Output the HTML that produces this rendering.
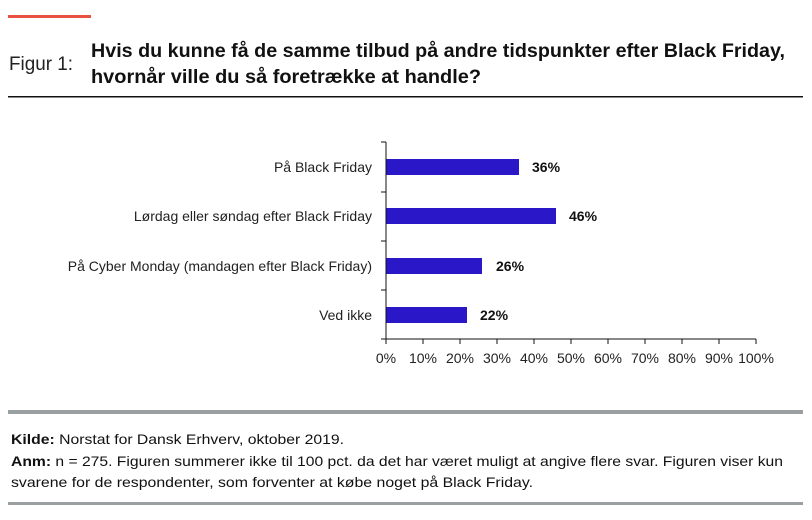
<!DOCTYPE html>
<html><head><meta charset="utf-8"><style>
html,body{margin:0;padding:0;background:#fff;}
svg{display:block;font-family:"Liberation Sans",sans-serif;}
</style></head><body>
<svg width="812" height="520" viewBox="0 0 812 520" xmlns="http://www.w3.org/2000/svg">
<rect x="8" y="15" width="83" height="3" fill="#e8503f"/>
<text x="9" y="70" font-size="19" fill="#222" textLength="64" lengthAdjust="spacingAndGlyphs">Figur 1:</text>
<text x="91" y="57" font-size="19" font-weight="bold" fill="#111" textLength="694" lengthAdjust="spacingAndGlyphs">Hvis du kunne få de samme tilbud på andre tidspunkter efter Black Friday,</text>
<text x="91" y="83" font-size="19" font-weight="bold" fill="#111" textLength="390" lengthAdjust="spacingAndGlyphs">hvornår ville du så foretrække at handle?</text>
<rect x="8" y="96" width="795" height="1.5" fill="#111"/>

<g font-size="14" fill="#222" text-anchor="end">
<text x="372" y="172">På Black Friday</text>
<text x="372" y="221">Lørdag eller søndag efter Black Friday</text>
<text x="372" y="271">På Cyber Monday (mandagen efter Black Friday)</text>
<text x="372" y="320">Ved ikke</text>
</g>
<g fill="#2a17c8">
<rect x="386" y="159" width="133" height="16"/>
<rect x="386" y="208" width="170" height="16"/>
<rect x="386" y="258" width="96" height="16"/>
<rect x="386" y="307" width="81" height="16"/>
</g>
<g font-size="14" font-weight="bold" fill="#111">
<text x="532" y="172">36%</text>
<text x="569" y="221">46%</text>
<text x="496" y="271">26%</text>
<text x="480" y="320">22%</text>
</g>
<g stroke="#111" stroke-width="1">
<line x1="386" y1="142" x2="386" y2="339"/>
<line x1="386" y1="339" x2="756" y2="339"/>
<line x1="381" y1="142" x2="386" y2="142"/>
<line x1="381" y1="192" x2="386" y2="192"/>
<line x1="381" y1="241" x2="386" y2="241"/>
<line x1="381" y1="290" x2="386" y2="290"/>
<line x1="381" y1="339" x2="386" y2="339"/>
<line x1="386" y1="339" x2="386" y2="344"/>
<line x1="423" y1="339" x2="423" y2="344"/>
<line x1="460" y1="339" x2="460" y2="344"/>
<line x1="497" y1="339" x2="497" y2="344"/>
<line x1="534" y1="339" x2="534" y2="344"/>
<line x1="571" y1="339" x2="571" y2="344"/>
<line x1="608" y1="339" x2="608" y2="344"/>
<line x1="645" y1="339" x2="645" y2="344"/>
<line x1="682" y1="339" x2="682" y2="344"/>
<line x1="719" y1="339" x2="719" y2="344"/>
<line x1="756" y1="339" x2="756" y2="344"/>
</g>
<g font-size="14" fill="#222" text-anchor="middle">
<text x="386" y="363">0%</text><text x="423" y="363">10%</text><text x="460" y="363">20%</text>
<text x="497" y="363">30%</text><text x="534" y="363">40%</text><text x="571" y="363">50%</text>
<text x="608" y="363">60%</text><text x="645" y="363">70%</text><text x="682" y="363">80%</text>
<text x="719" y="363">90%</text><text x="756" y="363">100%</text>
</g>

<rect x="8" y="410" width="795" height="4" fill="#9aa0a2"/>
<g font-size="14" fill="#111">
<text x="11" y="444" textLength="333" lengthAdjust="spacingAndGlyphs"><tspan font-weight="bold">Kilde:</tspan> Norstat for Dansk Erhverv, oktober 2019.</text>
<text x="11" y="466" textLength="772" lengthAdjust="spacingAndGlyphs"><tspan font-weight="bold">Anm:</tspan> n = 275. Figuren summerer ikke til 100 pct. da det har været muligt at angive flere svar. Figuren viser kun</text>
<text x="11" y="487" textLength="522" lengthAdjust="spacingAndGlyphs">svarene for de respondenter, som forventer at købe noget på Black Friday.</text>
</g>
<rect x="8" y="502" width="795" height="3" fill="#9aa0a2"/>
</svg>
</body></html>
